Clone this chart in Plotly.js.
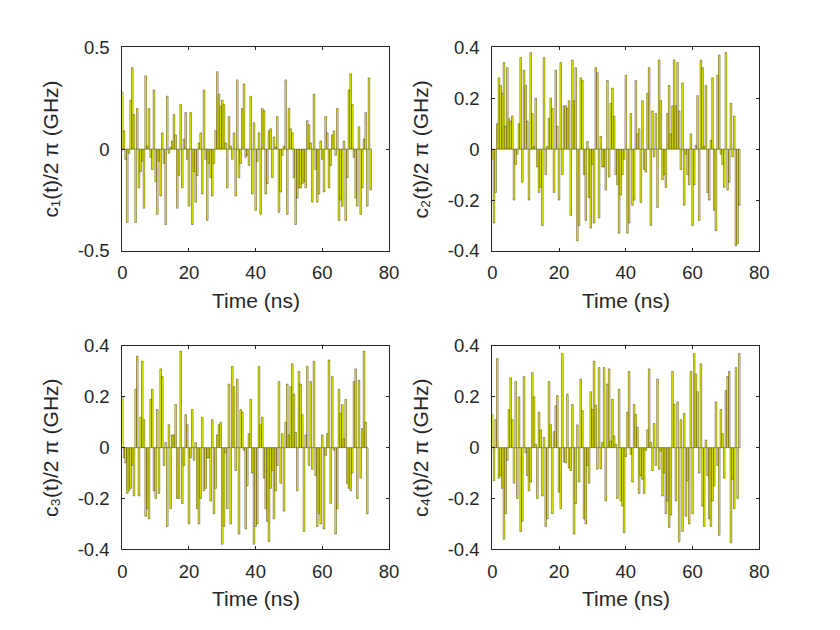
<!DOCTYPE html>
<html>
<head>
<meta charset="utf-8">
<script src="https://cdn.plot.ly/plotly-3.0.1.min.js"></script>
<style>html,body{margin:0;padding:0;background:#fff;}#chart{width:840px;height:630px;}</style>
</head>
<body>
<div id="chart"></div>
<script>
// Time step between pulses (ns)
var timeStep = 0.5;

// c1(t)/2pi (GHz)
var c1 = [0.28,0.09,-0.05,-0.36,-0.02,0.24,0.40,0.17,-0.36,0.20,
-0.19,-0.11,-0.06,-0.29,0.36,0.015,0.20,-0.04,-0.10,0.29,
-0.16,-0.32,-0.06,-0.23,0.08,-0.07,-0.37,0.26,-0.02,0.01,
0.04,0.17,0.07,-0.29,-0.13,0.22,-0.19,0.05,0.18,-0.05,
-0.28,0.18,-0.37,-0.11,-0.26,-0.13,0.03,0.08,-0.22,0.29,
-0.05,-0.35,-0.07,-0.14,-0.23,-0.07,0.09,0.38,0.27,0.21,
0.24,0.22,0.03,-0.19,0.16,0.015,-0.05,0.08,-0.23,0.34,
-0.14,-0.07,0.20,0.32,-0.04,-0.03,-0.08,0.26,-0.22,0.13,
-0.30,-0.06,0.08,-0.32,0.20,0.19,-0.22,-0.17,0.09,0.10,
-0.14,0.06,0.01,0.16,-0.31,-0.21,-0.03,0.015,0.34,-0.32,
0.20,0.10,0.08,-0.14,-0.37,-0.24,-0.19,-0.19,-0.17,-0.16,
-0.19,0.14,0.12,0.03,-0.26,0.27,-0.10,-0.26,-0.22,0.04,
-0.05,-0.21,0.16,0.08,-0.19,-0.08,0.07,0.09,-0.03,0.20,
-0.35,-0.25,-0.28,0.04,-0.35,-0.14,0.29,0.37,0.22,-0.04,
-0.24,-0.28,0.11,-0.32,-0.19,0.05,0.18,-0.28,0.35,-0.20];

// c2(t)/2pi (GHz)
var c2 = [-0.04,-0.29,-0.17,0.10,0.28,0.25,0.22,0.34,0.09,0.32,
0.12,0.11,0.13,-0.20,-0.06,-0.02,0.10,0.36,-0.13,0.31,
0.25,0.11,-0.20,0.38,0.14,0.01,0.20,-0.07,-0.17,-0.15,
-0.30,0.36,-0.10,0.01,0.12,0.20,0.16,-0.17,0.31,0.09,
-0.20,0.34,-0.10,0.17,0.17,0.16,0.19,-0.26,0.35,0.19,
0.32,-0.36,-0.30,0.28,0.27,-0.10,-0.28,0.03,-0.19,-0.31,
-0.06,-0.29,0.32,0.30,-0.27,0.05,-0.07,-0.07,-0.16,0.27,
-0.11,0.18,0.24,0.13,-0.10,-0.14,-0.33,-0.18,-0.10,-0.04,
0.29,-0.33,-0.29,0.14,-0.22,-0.20,0.27,0.06,0.08,-0.21,
0.19,-0.08,-0.09,0.22,0.32,-0.30,0.15,-0.03,0.14,-0.23,
0.35,0.19,-0.12,-0.10,-0.15,0.14,0.25,0.06,0.17,0.35,
0.17,0.34,0.15,-0.08,0.26,-0.22,-0.02,-0.10,-0.14,0.06,
-0.30,-0.14,0.015,0.21,-0.28,0.35,0.32,0.01,0.25,-0.17,
-0.20,0.035,0.28,-0.24,-0.32,0.29,0.37,-0.02,-0.06,-0.15,
0.38,-0.16,-0.13,0.18,-0.03,0.13,-0.38,-0.37,-0.22];

// c3(t)/2pi (GHz)
var c3 = [0.20,-0.04,-0.06,-0.18,-0.17,-0.16,-0.07,-0.19,0.23,0.36,
-0.19,0.12,0.34,0.11,-0.27,-0.24,-0.28,0.19,0.23,-0.17,
-0.20,0.15,-0.18,0.31,0.28,-0.07,0.02,-0.31,0.09,-0.24,
0.05,0.05,0.17,-0.20,-0.20,0.38,-0.22,-0.07,0.13,0.09,
-0.30,-0.04,0.15,-0.05,0.02,-0.24,-0.30,-0.20,0.12,-0.17,
-0.16,-0.04,-0.04,-0.21,0.11,-0.26,-0.16,0.05,0.09,0.10,
-0.38,-0.31,-0.02,-0.24,0.25,-0.30,0.32,0.24,-0.09,0.27,
-0.34,0.15,0.14,-0.01,-0.32,-0.15,0.055,0.19,-0.10,-0.38,
-0.31,-0.30,0.32,0.09,0.12,-0.12,-0.24,-0.29,-0.37,-0.16,
-0.09,-0.28,-0.17,-0.07,0.26,-0.14,0.055,-0.25,0.10,0.25,
0.05,0.24,0.33,0.21,0.06,-0.17,0.30,0.25,0.13,-0.33,
0.05,0.32,-0.07,0.26,-0.085,0.34,-0.11,-0.31,-0.26,-0.30,
0.05,-0.32,-0.03,0.055,0.345,-0.22,0.28,-0.01,-0.34,-0.24,
0.23,0.135,0.17,0.035,0.19,-0.14,-0.16,-0.17,-0.10,0.26,
0.31,-0.20,0.265,-0.12,0.075,0.38,0.10,-0.26];

// c4(t)/2pi (GHz)
var c4 = [0.13,-0.13,0.11,0.35,-0.12,-0.11,-0.16,-0.36,-0.26,-0.05,
0.15,0.275,0.11,-0.14,0.26,-0.20,0.20,-0.33,-0.29,0.28,
-0.02,-0.11,-0.17,-0.135,0.295,0.20,0.013,-0.20,0.14,0.07,
-0.19,0.04,-0.31,-0.28,0.26,0.09,-0.26,0.063,0.165,0.205,
-0.175,-0.24,0.37,-0.056,-0.06,0.21,-0.08,-0.09,0.17,-0.34,
-0.22,0.09,-0.135,0.27,0.145,-0.28,-0.30,-0.07,-0.14,0.22,
0.15,0.34,0.167,-0.085,0.315,-0.083,0.02,0.315,-0.21,0.25,
0.31,0.026,0.19,0.046,0.013,-0.20,0.23,-0.21,-0.23,-0.335,
-0.035,0.14,0.30,-0.026,-0.135,0.17,0.13,0.08,-0.18,-0.11,
-0.125,-0.18,-0.01,0.07,0.31,0.02,-0.09,0.095,-0.07,0.27,
-0.085,-0.013,-0.19,-0.10,-0.26,-0.21,-0.315,-0.265,0.30,0.17,
-0.21,0.18,-0.37,0.11,-0.33,0.135,-0.27,-0.13,-0.30,0.30,
-0.26,0.37,0.29,0.22,-0.10,0.33,-0.23,-0.31,0.03,-0.11,
-0.28,-0.31,-0.21,-0.15,0.18,-0.07,-0.345,0.15,0.055,-0.12,
0.225,0.28,0.30,-0.375,-0.125,-0.24,0.315,-0.20,0.37];

var xTicks = [0, 20, 40, 60, 80];
var yTicksFirst = [-0.5, 0, 0.5];
var yTickTextFirst = ['-0.5', '0', '0.5'];
var yTicks = [-0.4, -0.2, 0, 0.2, 0.4];
var yTickText = ['-0.4', '-0.2', '0', '0.2', '0.4'];
var yLabels = ['c\u2081(t)/2 \u03c0 (GHz)', 'c\u2082(t)/2 \u03c0 (GHz)',
               'c\u2083(t)/2 \u03c0 (GHz)', 'c\u2084(t)/2 \u03c0 (GHz)'];
var xLabel = 'Time (ns)';

function times(n) { var t = []; for (var i = 0; i < n; i++) t.push(i * timeStep); return t; }

var series = [c1, c2, c3, c4];
var data = series.map(function (c, k) {
  return {
    type: 'bar', x: times(c.length), y: c,
    xaxis: k === 0 ? 'x' : 'x' + (k + 1),
    yaxis: k === 0 ? 'y' : 'y' + (k + 1),
    marker: { color: '#ffff00', line: { color: '#000000', width: 0.4 } },
    hoverinfo: 'skip'
  };
});

var W = 840, H = 630;
var colX = [[122.3, 389], [492.3, 759.3]];
var rowY = [[47.3, 251], [346, 549.3]];
var axColor = '#262626';
var fontFam = 'Liberation Sans, Arial, Helvetica, sans-serif';

var layout = {
  width: W, height: H, showlegend: false, bargap: 0.05,
  paper_bgcolor: '#ffffff', plot_bgcolor: '#ffffff',
  margin: { l: 0, r: 0, t: 0, b: 0 },
  font: { family: fontFam, color: axColor },
  annotations: []
};

for (var k = 0; k < 4; k++) {
  var col = k % 2, row = Math.floor(k / 2);
  var sx = k === 0 ? '' : String(k + 1);
  var isFirst = (k === 0);
  var x0 = colX[col][0], x1 = colX[col][1], y0 = rowY[row][0], y1 = rowY[row][1];
  layout['xaxis' + sx] = {
    domain: [x0 / W, x1 / W],
    anchor: 'y' + sx, range: [0, 80], tickvals: xTicks,
    ticks: 'inside', ticklen: 3, tickwidth: 1, tickcolor: axColor,
    showline: true, mirror: 'ticks', linecolor: axColor, linewidth: 1,
    showgrid: false, zeroline: false, ticklabelstandoff: 5,
    tickfont: { size: 18.5, color: axColor, family: fontFam }
  };
  layout['yaxis' + sx] = {
    domain: [1 - y1 / H, 1 - y0 / H],
    anchor: 'x' + sx,
    range: isFirst ? [-0.5, 0.5] : [-0.4, 0.4],
    tickvals: isFirst ? yTicksFirst : yTicks,
    ticktext: isFirst ? yTickTextFirst : yTickText,
    ticks: 'inside', ticklen: 3, tickwidth: 1, tickcolor: axColor,
    showline: true, mirror: 'ticks', linecolor: axColor, linewidth: 1,
    showgrid: false, zeroline: false, ticklabelstandoff: 8,
    tickfont: { size: 18.5, color: axColor, family: fontFam }
  };
  // x-axis title
  layout.annotations.push({
    xref: 'paper', yref: 'paper', x: (x0 + x1) / 2 / W, y: 1 - (y1 + 49) / H,
    xanchor: 'center', yanchor: 'middle', showarrow: false,
    text: xLabel, font: { size: 21, color: axColor, family: fontFam }
  });
  // y-axis title
  layout.annotations.push({
    xref: 'paper', yref: 'paper', x: (x0 - 72) / W, y: 1 - (y0 + y1) / 2 / H,
    xanchor: 'center', yanchor: 'middle', showarrow: false, textangle: -90,
    text: yLabels[k], font: { size: 21, color: axColor, family: fontFam }
  });
}

Plotly.newPlot('chart', data, layout, { staticPlot: true, displayModeBar: false });
</script>
</body>
</html>
